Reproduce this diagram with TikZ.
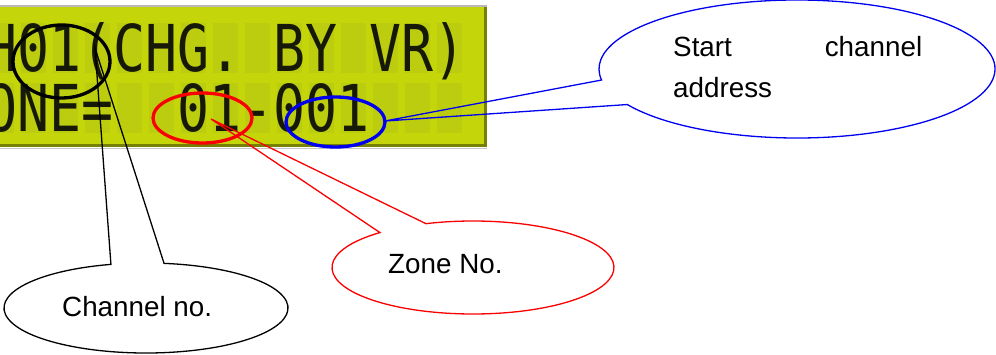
\documentclass[tikz,border=0pt]{standalone}
\usepackage{fontspec}
\setmainfont{Liberation Sans}
\newfontfamily\lcdfont[WordSpace={1,0,0}]{DejaVu Sans Mono}
\usetikzlibrary{calc,shapes.geometric}
\hyphenpenalty=10000
\exhyphenpenalty=10000
\definecolor{lcdbg}{RGB}{196,214,10}
\definecolor{lcdcell}{RGB}{187,205,14}
\definecolor{lcddark}{RGB}{118,128,4}
\definecolor{lcdink}{RGB}{22,24,8}
\definecolor{calblue}{RGB}{0,0,240}
\definecolor{calred}{RGB}{250,0,0}
\begin{document}
\begin{tikzpicture}[x=1pt,y=1pt,
  lcdtext/.style={inner sep=0pt, text=lcdink, font=\lcdfont\fontsize{53.15}{60}\selectfont},
  ring/.style={ellipse, draw, line width=3.3pt, inner sep=0pt, fill=none},
  balloon/.style={line width=1.3pt, line join=miter},
  lbl/.style={inner sep=0pt, font=\fontsize{27.8}{41}\selectfont, text=black}]
\useasboundingbox (0,0) rectangle (996,354);
\begin{scope}
\clip (0,0) rectangle (996,354);
% LCD panel
\fill[lcdbg] (-5,207) rectangle (487,347);
\fill[lcddark] (483.5,207) rectangle (487,347);
\fill[lcddark] (-5,207) rectangle (487,210);
\draw[gray!55, line width=1.5pt] (-5,348.2) -- (487,348.2);
\draw[gray!45, line width=1.5pt] (-5,205.6) -- (487,205.6);
\foreach \i in {0,...,14}{
  \fill[lcdcell] (-11+32*\i,331) rectangle ++(25,-50);
  \fill[lcdcell] (-11+32*\i,271) rectangle ++(25,-50);
}
\node[lcdtext, anchor=base west] (row1) at (-14.5,282) {\scalebox{1}[1.215]{H01(CHG.~BY~VR)}};
\node[lcdtext, anchor=base west] (row2) at (-14.5,222) {\scalebox{1}[1.215]{ONE=~~01-001}};
\end{scope}
% marking rings
\node[ring, draw=black, minimum width=97pt, minimum height=73pt] (ringA) at (61.5,292.5) {};
\node[ring, draw=calred, minimum width=99pt, minimum height=50pt] (ringB) at (202.5,236) {};
\node[ring, draw=calblue, minimum width=99pt, minimum height=50pt] (ringC) at (335.5,232) {};
% callouts
\coordinate (tipA) at (95,306);
\coordinate (cA) at (146,46);
\draw[balloon, draw=black] (tipA) -- ($(cA)+(104.3:142 and 45)$)
  arc[start angle=104.3, end angle=442.7, x radius=142, y radius=45] -- cycle;
\coordinate (tipB) at (211,235);
\coordinate (cB) at (473,86.5);
\draw[balloon, draw=calred] (tipB) -- ($(cB)+(131.3:141 and 46.5)$)
  arc[start angle=131.3, end angle=469.5, x radius=141, y radius=46.5] -- cycle;
\coordinate (tipC) at (385,233);
\coordinate (cC) at (797,285);
\draw[balloon, draw=calblue] (tipC) -- ($(cC)+(211:198 and 69)$)
  arc[start angle=211, end angle=549.2, x radius=198, y radius=69] -- cycle;
% labels
\node[lbl, anchor=base west] (chan) at (62,38) {Channel no.};
\node[lbl, anchor=base west] (zone) at (388,81) {Zone No.};
\node[lbl, anchor=base west, text width=249pt, align=justify] (start) at (673,297) {Start channel \mbox{address}};
\end{tikzpicture}
\end{document}
